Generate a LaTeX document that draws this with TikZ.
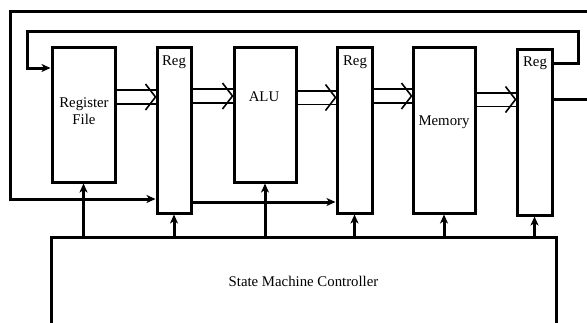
\documentclass[tikz,border=0pt]{standalone}
\usepackage{fontspec}
\setmainfont{Liberation Serif}
\usetikzlibrary{arrows.meta}
\newcommand\busarr[3]{%
  \draw[busline] (#1.east |- 0,{#3-6.8}) -- (#2.west |- 0,{#3-6.8});
  \draw[busline] (#1.east |- 0,{#3+6.8}) -- (#2.west |- 0,{#3+6.8});
  \draw[busline, line join=miter] ([xshift=-10pt,yshift=13pt]#2.west |- 0,#3) -- (#2.west |- 0,#3) -- ([xshift=-10pt,yshift=-13pt]#2.west |- 0,#3);
}
\begin{document}
\begin{tikzpicture}[x=1pt,y=-1pt,
  font=\fontsize{14.8pt}{17.2pt}\selectfont,
  blk/.style={draw, line width=3pt, fill=white, inner sep=0pt},
  busline/.style={line width=1.6pt},
  fb/.style={line width=3pt},
  tip/.style={-{Stealth[length=9pt,width=8pt,inset=2.5pt]}}]
\useasboundingbox (0,0) rectangle (587,322);
% blocks
\node[blk, minimum width=63pt, minimum height=135pt, align=center] (rf) at (83.5,114.5) {};
\node at (84,111.5) [align=center] (rftext) {Register\\File};
\node[blk, minimum width=34pt, minimum height=166pt] (reg1) at (174,130) {};
\node (reg1t) at (174,62) {Reg};
\node[blk, minimum width=62pt, minimum height=135pt] (alu) at (265,114.5) {};
\node (alut) at (264,97) {ALU};
\node[blk, minimum width=35pt, minimum height=166pt] (reg2) at (354.5,130) {};
\node (reg2t) at (355,62) {Reg};
\node[blk, minimum width=62pt, minimum height=166pt] (mem) at (444,130) {};
\node (memt) at (444,122) {Memory};
\node[blk, minimum width=35pt, minimum height=166pt] (reg3) at (534.5,132) {};
\node (reg3t) at (535,63) {Reg};
\node[blk, minimum width=505pt, minimum height=88pt] (ctrl) at (303.5,281) {State Machine Controller};
% bus arrows
\busarr{rf}{reg1}{97}
\busarr{reg1}{alu}{96}
\busarr{alu}{reg2}{97.5}
\busarr{reg2}{mem}{96}
\busarr{mem}{reg3}{99.5}
% feedback paths
\draw[fb, tip] (reg3.east |- 0,63) -- (578,63) |- (27,31) |- (rf.west |- 0,68);
\draw[fb, tip] (reg3.east |- 0,99) -- (600,99) |- (10,11) |- (reg1.west |- 0,199);
\draw[fb, tip] (reg1.east |- 0,202) -- (reg2.west |- 0,202);
% control arrows
\foreach \n in {rf,reg1,alu,reg2,mem,reg3}
  \draw[fb, tip] (ctrl.north -| \n.south) -- (\n.south);
\end{tikzpicture}
\end{document}
